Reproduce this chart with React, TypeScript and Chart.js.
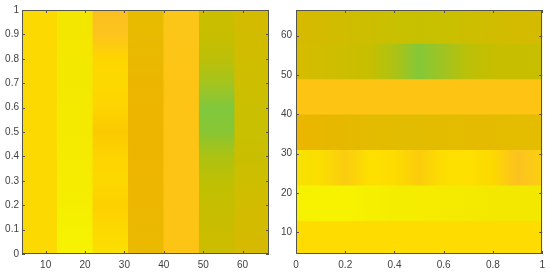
import React, { useEffect, useRef } from 'react';
import { Chart, registerables } from 'chart.js';

Chart.register(...registerables);

// band centres (width 9) along the banded axis
const bandCenters = [8.5, 17.5, 26.5, 35.5, 44.5, 53.5, 62.5];
// positions (0..1) of colour samples along the continuous axis
const stopPositions = [0, 0.1, 0.2, 0.3, 0.4, 0.5, 0.6, 0.7, 0.8, 0.9, 1];

const leftXTicks = [10, 20, 30, 40, 50, 60];
const leftYTicks = [0, 0.1, 0.2, 0.3, 0.4, 0.5, 0.6, 0.7, 0.8, 0.9, 1];
const rightXTicks = [0, 0.2, 0.4, 0.6, 0.8, 1];
const rightYTicks = [10, 20, 30, 40, 50, 60];

// left panel: vertical bands, colours sampled bottom (0) -> top (1)
const leftBand1 = ['#FCD900', '#FCD900', '#FCD900', '#FCD900', '#FCD900', '#FCD900', '#FCD900', '#FCD900', '#FCD900', '#FCD900', '#FCD900'];
const leftBand2 = ['#F6F200', '#F6F100', '#F5EE00', '#F5EC00', '#F4EB00', '#F4EA00', '#F4EA00', '#F3E900', '#F3E800', '#F3E700', '#F3E700'];
const leftBand3 = ['#FAE000', '#FDD800', '#FDD000', '#FDD800', '#FDD400', '#FBC900', '#FDD400', '#FDD800', '#FDD600', '#FCC41C', '#FCBE22'];
const leftBand4 = ['#E9BA00', '#EBB800', '#EDB700', '#EDB600', '#EEB500', '#EEB500', '#EDB500', '#ECB600', '#EAB800', '#E8BA00', '#E6BC00'];
const leftBand5 = ['#FDC415', '#FDC415', '#FDC415', '#FDC415', '#FDC415', '#FDC415', '#FDC415', '#FDC415', '#FDC516', '#FCC618', '#FCC618'];
const leftBand6 = ['#CDBC00', '#CABD00', '#C6BE00', '#BEC004', '#ACC212', '#88C634', '#80C83C', '#A4C41E', '#BCC008', '#C8BE00', '#CCBE00'];
const leftBand7 = ['#D6BA00', '#D4BB00', '#D2BC00', '#CEBE00', '#CABE00', '#C8C000', '#CABF00', '#CEBE00', '#D0BD00', '#D2BC00', '#D4BB00'];

// right panel: horizontal bands, colours sampled left (0) -> right (1)
const rightBand1 = ['#FEDC00', '#FEDC00', '#FEDC00', '#FEDC00', '#FEDC00', '#FEDC00', '#FEDC00', '#FEDC00', '#FEDC00', '#FEDC00', '#FEDC00'];
const rightBand2 = ['#F6F100', '#F7F200', '#F7F300', '#F6F000', '#F5ED00', '#F5EC00', '#F4EB00', '#F4EA00', '#F3E900', '#F3E800', '#F3E800'];
const rightBand3 = ['#F7E200', '#FADE00', '#FBCC10', '#FDE000', '#FDDC00', '#FBCC0C', '#FDDE00', '#FDE000', '#FDD800', '#FCC220', '#FBD010'];
const rightBand4 = ['#EBB600', '#E8B700', '#E5B900', '#E3BB00', '#E2BC00', '#E2BC00', '#E3BC00', '#E4BB00', '#E4BB00', '#E4BC00', '#E4BC00'];
const rightBand5 = ['#FDC414', '#FDC414', '#FDC414', '#FDC414', '#FDC414', '#FDC414', '#FDC414', '#FDC414', '#FDC414', '#FDC414', '#FDC414'];
const rightBand6 = ['#D6BC00', '#D2BD00', '#CCBE00', '#C6BF00', '#AEC214', '#84C838', '#A0C420', '#BCC008', '#C6BE00', '#C8BE00', '#C8BD00'];
const rightBand7 = ['#D6BA00', '#D4BB00', '#D0BC00', '#CCBE00', '#C8C000', '#C6C100', '#C8C000', '#CCBE00', '#D0BC00', '#D4BB00', '#D4BB00'];

const leftBands = [leftBand1, leftBand2, leftBand3, leftBand4, leftBand5, leftBand6, leftBand7];
const rightBands = [rightBand1, rightBand2, rightBand3, rightBand4, rightBand5, rightBand6, rightBand7];

const FONT = { family: "'Liberation Sans', Arial, sans-serif", size: 10 };
const LABEL_COLOR = '#3f3f3f';
const FRAME_COLOR = '#55554a';

const framePlugin = {
  id: 'matlabFrame',
  afterDatasetsDraw(chart: any) {
    const { ctx, chartArea } = chart;
    const { left, right, top, bottom } = chartArea;
    const xs = chart.scales.x;
    const ys = chart.scales.y;
    ctx.save();
    ctx.strokeStyle = FRAME_COLOR;
    ctx.lineWidth = 1;
    ctx.beginPath();
    const tl = 3;
    xs.ticks.forEach((t: any) => {
      const px = Math.round(xs.getPixelForValue(t.value)) + 0.5;
      ctx.moveTo(px, bottom);
      ctx.lineTo(px, bottom - tl);
      ctx.moveTo(px, top);
      ctx.lineTo(px, top + tl);
    });
    ys.ticks.forEach((t: any) => {
      const py = Math.round(ys.getPixelForValue(t.value)) + 0.5;
      ctx.moveTo(left, py);
      ctx.lineTo(left + tl, py);
      ctx.moveTo(right, py);
      ctx.lineTo(right - tl, py);
    });
    ctx.stroke();
    ctx.strokeRect(Math.round(left) + 0.5, Math.round(top) + 0.5, Math.round(right - left) - 1, Math.round(bottom - top) - 1);
    ctx.restore();
  },
};

function gradientFor(chart: any, colors: string[], horizontal: boolean) {
  const { ctx, chartArea } = chart;
  if (!chartArea) return colors[0];
  let g;
  if (horizontal) {
    const xs = chart.scales.x;
    g = ctx.createLinearGradient(xs.getPixelForValue(0), 0, xs.getPixelForValue(1), 0);
  } else {
    const ys = chart.scales.y;
    g = ctx.createLinearGradient(0, ys.getPixelForValue(0), 0, ys.getPixelForValue(1));
  }
  colors.forEach((c, i) => g.addColorStop(stopPositions[i], c));
  return g;
}

function makeTicks(values: number[]) {
  return (scale: any) => {
    scale.ticks = values.map((v) => ({ value: v }));
  };
}

function leftConfig(): any {
  return {
    type: 'bar',
    data: {
      datasets: [
        {
          data: bandCenters.map((c) => ({ x: c, y: [0, 1] })),
          backgroundColor: (ctx: any) => gradientFor(ctx.chart, leftBands[ctx.dataIndex], false),
          borderWidth: 0,
          barPercentage: 1,
          categoryPercentage: 1,
        },
      ],
    },
    options: {
      responsive: false,
      animation: false,
      events: [],
      layout: { padding: { left: 0, right: 6, top: 10, bottom: 0 } },
      plugins: { legend: { display: false }, tooltip: { enabled: false } },
      scales: {
        x: {
          type: 'linear',
          min: 4,
          max: 66.7,
          offset: false,
          grid: { display: false, drawTicks: false },
          border: { display: false },
          afterBuildTicks: makeTicks(leftXTicks),
          afterFit: (s: any) => { s.height = 19; },
          ticks: { font: FONT, color: LABEL_COLOR, padding: 5, maxRotation: 0, callback: (v: any) => String(v) },
        },
        y: {
          type: 'linear',
          min: 0,
          max: 1,
          grid: { display: false, drawTicks: false },
          border: { display: false },
          afterBuildTicks: makeTicks(leftYTicks),
          afterFit: (s: any) => { s.width = 22; },
          ticks: { font: FONT, color: LABEL_COLOR, padding: 3, callback: (v: any) => String(v) },
        },
      },
    },
    plugins: [framePlugin],
  };
}

function rightConfig(): any {
  return {
    type: 'bar',
    data: {
      datasets: [
        {
          data: bandCenters.map((c) => ({ y: c, x: [0, 1] })),
          backgroundColor: (ctx: any) => gradientFor(ctx.chart, rightBands[ctx.dataIndex], true),
          borderWidth: 0,
          barPercentage: 1,
          categoryPercentage: 1,
        },
      ],
    },
    options: {
      indexAxis: 'y',
      responsive: false,
      animation: false,
      events: [],
      layout: { padding: { left: 0, right: 6, top: 9, bottom: 0 } },
      plugins: { legend: { display: false }, tooltip: { enabled: false } },
      scales: {
        x: {
          type: 'linear',
          min: 0,
          max: 1,
          grid: { display: false, drawTicks: false },
          border: { display: false },
          afterBuildTicks: makeTicks(rightXTicks),
          afterFit: (s: any) => { s.height = 19; },
          ticks: { font: FONT, color: LABEL_COLOR, padding: 5, maxRotation: 0, callback: (v: any) => String(v) },
        },
        y: {
          type: 'linear',
          min: 4.5,
          max: 66.5,
          offset: false,
          grid: { display: false, drawTicks: false },
          border: { display: false },
          afterBuildTicks: makeTicks(rightYTicks),
          afterFit: (s: any) => { s.width = 21; },
          ticks: { font: FONT, color: LABEL_COLOR, padding: 4, callback: (v: any) => String(v) },
        },
      },
    },
    plugins: [framePlugin],
  };
}

export default function App() {
  const leftRef = useRef<HTMLCanvasElement | null>(null);
  const rightRef = useRef<HTMLCanvasElement | null>(null);

  useEffect(() => {
    document.body.style.margin = '0';
    document.body.style.background = '#ffffff';
    const a = new Chart(leftRef.current as HTMLCanvasElement, leftConfig());
    const b = new Chart(rightRef.current as HTMLCanvasElement, rightConfig());
    return () => {
      a.destroy();
      b.destroy();
    };
  }, []);

  return (
    <div style={{ position: 'absolute', left: 0, top: 0, width: 550, height: 273, background: '#fff' }}>
      <canvas ref={leftRef} width={275} height={273} style={{ position: 'absolute', left: 0, top: 0, width: 275, height: 273 }} />
      <canvas ref={rightRef} width={275} height={273} style={{ position: 'absolute', left: 275, top: 0, width: 275, height: 273 }} />
    </div>
  );
}
